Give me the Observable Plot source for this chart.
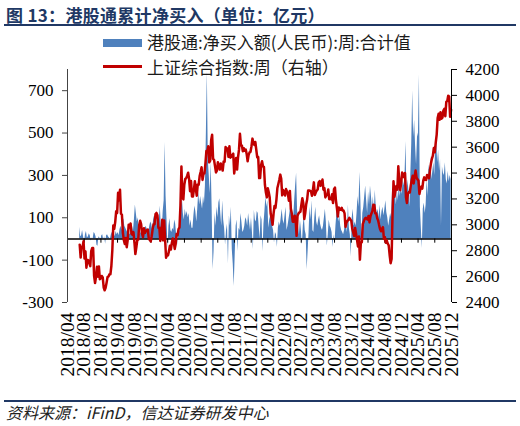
<!DOCTYPE html>
<html><head><meta charset="utf-8">
<script src="https://cdn.jsdelivr.net/npm/d3@7"></script>
<script src="https://cdn.jsdelivr.net/npm/@observablehq/plot@0.6"></script>
<style>
body{margin:0;background:#fff;}
#wrap{position:relative;width:520px;height:426px;overflow:hidden;background:#fff;font-family:"Noto Sans CJK SC",sans-serif;}
#chart{position:absolute;left:0;top:0;}
.title{position:absolute;left:6px;top:4px;font-size:17px;font-weight:bold;color:#203864;white-space:nowrap;line-height:22px;letter-spacing:0.3px;}
.rule{position:absolute;left:4px;width:512px;height:2px;background:#203864;}
.legtxt{position:absolute;left:147px;font-size:17px;color:#1a1a1a;white-space:nowrap;line-height:20px;}
.sw{position:absolute;left:103px;width:39px;}
.src{position:absolute;left:6px;top:402px;font-size:16px;font-style:italic;color:#222;white-space:nowrap;line-height:20px;}
</style></head>
<body>
<div id="wrap">
  <div id="chart"></div>
  <div class="title">图 13：港股通累计净买入（单位：亿元）</div>
  <div class="rule" style="top:24px"></div>
  <div class="sw" style="top:39px;height:8px;background:#4F81BD"></div>
  <div class="legtxt" style="top:32px">港股通:净买入额(人民币):周:合计值</div>
  <div class="sw" style="top:65px;height:3px;background:#C00000"></div>
  <div class="legtxt" style="top:57px">上证综合指数:周（右轴）</div>
  <div class="rule" style="top:400px"></div>
  <div class="src">资料来源：iFinD，信达证券研发中心</div>
</div>
<script>
// x tick labels (every 4 months)
const tickLabels = ["2018/04","2018/08","2018/12","2019/04","2019/08","2019/12","2020/04","2020/08","2020/12",
  "2021/04","2021/08","2021/12","2022/04","2022/08","2022/12","2023/04","2023/08","2023/12",
  "2024/04","2024/08","2024/12","2025/04","2025/08","2025/12"];
const leftTicks = [-300, -100, 100, 300, 500, 700];
const rightTicks = [2400, 2600, 2800, 3000, 3200, 3400, 3600, 3800, 4000, 4200];

// 上证综合指数 weekly closes, grouped by month (Fridays)
const sse2018 = [[2847],[2747,2831,2829,2873],[2740,2795,2669,2729,2725],[2702,2681,2797,2821],[2821,2606,2550,2598],[2676,2599,2679,2579,2588],[2605,2594,2516,2494]]; // from Jun
const sse2019 = [[2514,2553,2596,2601],[2618,2618,2682,2804],[2994,2969,3021,3104,3091],[3247,3189,3271,3086],[3078,2939,2882,2852,2898],[2827,2882,3001,2979],[3011,2930,2924,2944],[2868,2774,2824,2883,2886],[2999,3031,3006,2932],[2905,2973,2938,2954],[2958,2964,2891,2885,2871],[2912,2967,3004,3005]];
const sse2020 = [[3083,3092,3075,2977,2977],[2876,2917,3039,2880],[3034,2887,2746,2772],[2764,2797,2839,2809],[2860,2895,2868,2814,2852],[2930,2920,2967,2980],[3153,3450,3214,3197,3310],[3354,3361,3380,3403],[3355,3260,3338,3219],[3218,3272,3336,3278,3225],[3312,3310,3377,3408],[3445,3347,3395,3397]];
const sse2021 = [[3473,3570,3566,3607,3483],[3496,3655,3696,3509],[3502,3454,3405,3418],[3484,3451,3427,3474,3447],[3419,3490,3487,3601],[3592,3590,3525,3607],[3519,3525,3540,3550,3397],[3458,3517,3427,3522],[3581,3703,3613,3613],[3568,3592,3572,3582,3547],[3491,3539,3560,3564],[3607,3666,3632,3618,3640]];
const sse2022 = [[3580,3521,3523,3361],[3361,3462,3491,3451],[3447,3310,3251,3212],[3282,3251,3211,3087,3047],[3001,3084,3146,3131],[3195,3285,3316,3349],[3388,3356,3228,3270,3253],[3227,3276,3258,3236],[3186,3262,3126,3088,3024],[3024,3071,3038,2915],[3071,3087,3097,3101],[3156,3206,3167,3045,3089]];
const sse2023 = [[3158,3195,3265,3265],[3263,3260,3224,3267],[3328,3230,3250,3265,3273],[3327,3338,3301,3323],[3350,3272,3284,3212],[3230,3231,3273,3198,3202],[3197,3237,3168,3276],[3288,3189,3131,3064],[3133,3117,3117,3132,3110],[3110,3088,2983,3018],[3030,3038,3054,3041],[3032,2970,2942,2914,2975]];
const sse2024 = [[2929,2882,2832,2910],[2730,2866,2866,3005],[3027,3046,3054,3048,3041],[3069,3019,3065,3088],[3105,3155,3154,3089,3087],[3051,3033,2998,2967],[2950,2971,2982,2891],[2905,2862,2879,2855,2842],[2765,2704,2736,3088],[3336,3217,3261,3300],[3272,3452,3331,3268,3326],[3404,3392,3368,3400]];
const sse2025 = [[3212,3169,3241,3253,3250],[3303,3346,3379,3320],[3373,3419,3364,3351],[3342,3238,3277,3295],[3279,3342,3367,3348,3347],[3385,3377,3359,3424],[3473,3510,3534,3593],[3560,3635,3697,3825,3858],[3812,3870,3820,3828],[3883,3897,3839,3950,3955],[3998,3990,3835,3889]];

// 港股通净买入额 weekly (亿元), grouped by month (Fridays)
const flow2018 = [[55],[10,15,40,10],[-15,20,35,5,10],[25,15,-10,5],[0,30,25,10],[-30,-35,10,5,-10],[15,20,-5,10]]; // from Jun
const flow2019 = [[-25,15,20,10],[5,0,20,30],[40,25,10,35,20],[30,15,45,60],[40,80,95,60,50],[40,30,55,20],[25,40,60,35],[90,160,120,80,100],[40,20,30,50],[10,30,40,60],[50,40,30,60,80],[70,40,90,110]];
const flow2020 = [[80,125,60,50,90],[155,60,40,130],[180,455,200,90],[-45,60,95,40],[30,50,40,90,70],[20,-30,40,30],[60,155,190,120,90],[140,110,130,100],[120,60,90,50],[50,110,155,130,80],[140,220,160,200],[170,140,200,165]];
const flow2021 = [[250,500,790,370,300],[215,360,150,-145],[-60,120,60,150],[100,170,190,120,60],[180,90,50,-30],[40,70,-120,110],[60,150,-50,-120,-225],[-80,60,90,-60],[50,40,120,80],[30,40,60,100,90],[60,120,80,40],[100,30,-50,135,90]];
const flow2022 = [[80,130,120,60],[0,110,90,-60],[70,130,200,150],[180,50,90,110,130],[60,40,-20,30],[20,-40,50,80],[60,100,140,90,70],[110,150,40,60],[90,120,160,180,120],[100,180,250,310],[140,60,20,90],[40,-30,60,110,40]];
const flow2023 = [[20,-145,-60,30],[150,90,180,40],[30,100,150,80,60],[90,110,70,50],[40,60,100,140],[80,-35,20,90,60],[50,30,-40,20],[-20,60,120,150],[80,110,60,40,30],[20,40,90,60],[30,160,50,20],[-85,100,140,60,80]];
const flow2024 = [[60,120,200,150],[315,180,0,120],[150,200,250,180,120],[220,160,250,200],[140,200,120,230,150],[120,140,100,160],[90,130,150,110],[140,180,125,100,60],[90,120,100,230],[200,235,210,160],[230,180,260,200,240],[210,280,250,300]];
const flow2025 = [[460,200,280,230,150],[300,450,700,480],[560,440,350,480],[500,775,150,50],[-45,140,170,120,160],[280,200,350,300],[390,280,320,360],[300,450,470,360,420],[320,375,60,340],[310,300,360,280,260],[320,270,300,280]];

function weekly(year, firstMonth, months) {
  const out = [];
  months.forEach((vals, i) => {
    const m = firstMonth + i;
    const fr = d3.utcFriday.range(new Date(Date.UTC(year, m, 1)), new Date(Date.UTC(year, m + 1, 1)));
    const f = fr.slice(Math.max(0, fr.length - vals.length));
    vals.forEach((v, j) => { if (f[j]) out.push({date: f[j], value: v}); });
  });
  return out;
}
const sse = [].concat(weekly(2018,5,sse2018), weekly(2019,0,sse2019), weekly(2020,0,sse2020), weekly(2021,0,sse2021),
  weekly(2022,0,sse2022), weekly(2023,0,sse2023), weekly(2024,0,sse2024), weekly(2025,0,sse2025));
const flows = [].concat(weekly(2018,5,flow2018), weekly(2019,0,flow2019), weekly(2020,0,flow2020), weekly(2021,0,flow2021),
  weekly(2022,0,flow2022), weekly(2023,0,flow2023), weekly(2024,0,flow2024), weekly(2025,0,flow2025));

const parse = d3.utcParse("%Y/%m");
const tickDates = tickLabels.map(parse);
const x0 = tickDates[0], x1 = tickDates[tickDates.length - 1];
const toLeft = d3.scaleLinear().domain([2400, 4200]).range([-300, 800]);

const chart = Plot.plot({
  width: 520, height: 400,
  marginTop: 69, marginBottom: 98, marginLeft: 67, marginRight: 69,
  style: {fontFamily: '"Liberation Serif","Times New Roman",serif', fontSize: "17px", color: "#000", background: "transparent"},
  x: {type: "utc", domain: [x0, x1], label: null},
  y: {domain: [-300, 800], label: null},
  marks: [
    Plot.areaY(flows, {x: "date", y: "value", fill: "#4F81BD"}),
    Plot.ruleY([0], {stroke: "#000", strokeWidth: 1.5}),
    Plot.ruleX(tickDates, {x: d => d, y1: 0, y2: -20, stroke: "#000"}),
    Plot.lineY(sse, {x: "date", y: d => toLeft(d.value), stroke: "#C00000", strokeWidth: 2.5}),
    Plot.ruleX([x0], {stroke: "#444"}),
    Plot.ruleX([x1], {stroke: "#000"}),
    Plot.axisY(leftTicks, {anchor: "left", tickSize: 5, tickPadding: 9, stroke: "#444", fontSize: 17, label: null,
      tickFormat: d => String(d)}),
    Plot.axisY(rightTicks.map(toLeft), {anchor: "right", tickSize: 5, tickPadding: 9, fontSize: 17, label: null,
      tickFormat: d => String(Math.round(toLeft.invert(d)))}),
    Plot.axisX(tickDates, {anchor: "bottom", tickSize: 0, tickPadding: 10, tickRotate: -90, fontSize: 19.5, label: null,
      tickFormat: d3.utcFormat("%Y/%m")})
  ]
});
document.getElementById("chart").appendChild(chart);
</script>
</body></html>
